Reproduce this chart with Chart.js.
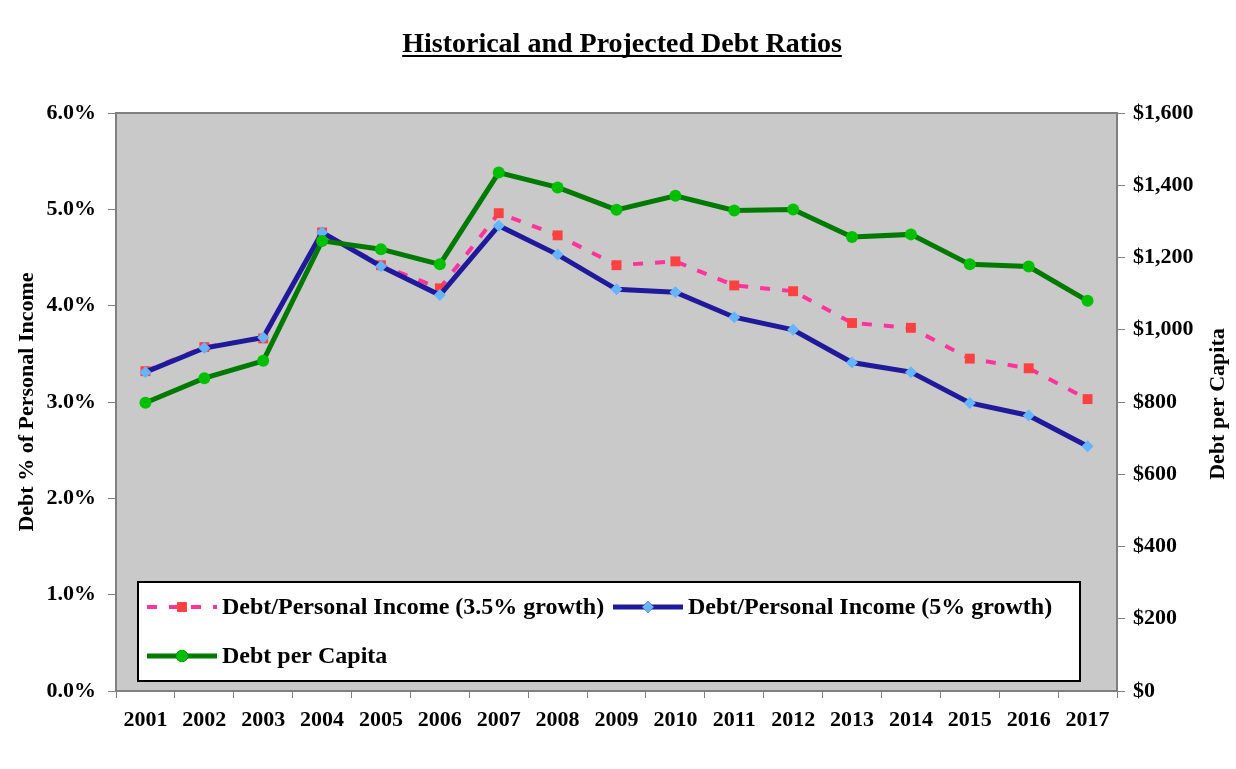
<!DOCTYPE html>
<html>
<head>
<meta charset="utf-8">
<script src="https://cdn.jsdelivr.net/npm/chart.js@4"></script>
<style>
  html, body { margin: 0; padding: 0; background: #fff; }
  #wrap { width: 1236px; height: 769px; position: relative; }
</style>
</head>
<body>
<div id="wrap"><canvas id="debtChart"></canvas></div>
<script>
const years = ['2001', '2002', '2003', '2004', '2005', '2006', '2007', '2008', '2009',
    '2010', '2011', '2012', '2013', '2014', '2015', '2016', '2017'];

// Debt as % of personal income, two growth assumptions
const income35 = [3.32, 3.57, 3.66, 4.76, 4.42, 4.18, 4.96, 4.73, 4.42, 4.46, 4.21, 4.15, 3.82, 3.77, 3.45, 3.35, 3.03];
const income5 = [3.31, 3.56, 3.67, 4.76, 4.41, 4.11, 4.83, 4.53, 4.17, 4.14, 3.88, 3.75, 3.41, 3.31, 2.99, 2.86, 2.54];

// Debt per capita in dollars
const perCapita = [798, 866, 914, 1246, 1223, 1181, 1435, 1394, 1332, 1371, 1330, 1333, 1257, 1264, 1181, 1175, 1080];

const pctTicks = { min: 0, max: 6, step: 1 };
const dollarTicks = { min: 0, max: 1600, step: 200 };

const serif = '"Liberation Serif", "Times New Roman", serif';

// plot background, frame, title, right axis title and the legend box
const decorPlugin = {
    id: 'decor',
    beforeDatasetsDraw: (chart) => {
        const { ctx, chartArea } = chart;
        ctx.save();
        ctx.fillStyle = '#c9c9c9';
        ctx.fillRect(chartArea.left, chartArea.top, chartArea.width, chartArea.height);
        ctx.strokeStyle = '#7f7f7f';
        ctx.lineWidth = 2;
        ctx.strokeRect(chartArea.left, chartArea.top, chartArea.width, chartArea.height);
        ctx.restore();
    },
    afterDraw: (chart) => {
        const { ctx, chartArea } = chart;
        ctx.save();

        // title with underline
        ctx.font = 'bold 28px ' + serif;
        ctx.fillStyle = '#000';
        ctx.textAlign = 'center';
        ctx.textBaseline = 'alphabetic';
        const title = 'Historical and Projected Debt Ratios';
        const tx = 622, ty = 52;
        ctx.fillText(title, tx, ty);
        const tw = ctx.measureText(title).width;
        ctx.fillRect(tx - tw / 2, ty + 3, tw, 2);

        // right axis title, reading bottom to top
        ctx.save();
        ctx.translate(1218, (chartArea.top + chartArea.bottom) / 2 + 2);
        ctx.rotate(-Math.PI / 2);
        ctx.font = 'bold 22px ' + serif;
        ctx.textBaseline = 'middle';
        ctx.fillText('Debt per Capita', 0, 0);
        ctx.restore();

        // legend box
        const box = { x: 138, y: 582, w: 942, h: 99 };
        ctx.fillStyle = '#fff';
        ctx.fillRect(box.x, box.y, box.w, box.h);
        ctx.strokeStyle = '#000';
        ctx.lineWidth = 2;
        ctx.strokeRect(box.x, box.y, box.w, box.h);

        const items = [
            { ds: chart.data.datasets[0], x: 147, y: 607 },
            { ds: chart.data.datasets[1], x: 613, y: 607 },
            { ds: chart.data.datasets[2], x: 147, y: 656 }
        ];
        items.forEach(({ ds, x, y }) => {
            ctx.save();
            ctx.strokeStyle = ds.borderColor;
            ctx.lineWidth = ds.borderWidth;
            ctx.setLineDash(ds.borderDash || []);
            ctx.beginPath();
            ctx.moveTo(x, y);
            ctx.lineTo(x + 70, y);
            ctx.stroke();
            ctx.restore();
            Chart.helpers.drawPoint(ctx, {
                pointStyle: ds.pointStyle,
                radius: ds.pointRadius,
                borderWidth: 0,
                rotation: 0
            }, x + 35, y);
            ctx.fillStyle = ds.pointBackgroundColor;
            ctx.fill();
            ctx.fillStyle = '#000';
            ctx.font = 'bold 24px ' + serif;
            ctx.textAlign = 'left';
            ctx.textBaseline = 'middle';
            ctx.fillText(ds.label, x + 75, y + 1);
        });

        ctx.restore();
    }
};

const chart = new Chart(document.getElementById('debtChart'), {
    type: 'line',
    data: {
        labels: years,
        datasets: [{
            label: 'Debt/Personal Income (3.5% growth)',
            data: income35,
            yAxisID: 'y',
            borderColor: '#ff3399',
            borderWidth: 4,
            borderDash: [10, 12],
            pointStyle: 'rect',
            pointRadius: 7,
            pointBorderWidth: 0,
            pointBackgroundColor: '#ff4040',
            tension: 0,
            order: 2
        }, {
            label: 'Debt/Personal Income (5% growth)',
            data: income5,
            yAxisID: 'y',
            borderColor: '#1f1a9c',
            borderWidth: 5,
            pointStyle: 'rectRot',
            pointRadius: 6,
            pointBorderWidth: 0,
            pointBackgroundColor: '#66b3ff',
            tension: 0,
            order: 1
        }, {
            label: 'Debt per Capita',
            data: perCapita,
            yAxisID: 'y1',
            borderColor: '#007a00',
            borderWidth: 5,
            pointStyle: 'circle',
            pointRadius: 6,
            pointBorderWidth: 0,
            pointBackgroundColor: '#00c000',
            tension: 0,
            order: 0
        }]
    },
    options: {
        responsive: true,
        maintainAspectRatio: false,
        animation: false,
        layout: { padding: { top: 113, left: 0, right: 0, bottom: 0 } },
        plugins: {
            legend: { display: false },
            tooltip: { enabled: false },
            title: { display: false }
        },
        scales: {
            x: {
                type: 'category',
                offset: true,
                grid: { offset: true, drawOnChartArea: false, tickLength: 7, color: '#7f7f7f', lineWidth: 1 },
                border: { color: '#7f7f7f', width: 2 },
                ticks: {
                    color: '#000',
                    font: { family: serif, size: 22, weight: 'bold' },
                    padding: 9,
                    maxRotation: 0,
                    autoSkip: false
                },
                afterFit: (scale) => { scale.height = 78; }
            },
            y: {
                position: 'left',
                min: pctTicks.min,
                max: pctTicks.max,
                grid: { drawOnChartArea: false, tickLength: 8, color: '#7f7f7f' },
                border: { color: '#7f7f7f', width: 2 },
                ticks: {
                    stepSize: pctTicks.step,
                    color: '#000',
                    font: { family: serif, size: 22, weight: 'bold' },
                    padding: 12,
                    callback: (v) => v.toFixed(1) + '%'
                },
                title: {
                    display: true,
                    text: 'Debt % of Personal Income',
                    color: '#000',
                    font: { family: serif, size: 22, weight: 'bold' },
                    padding: { top: 14, bottom: 0 }
                },
                afterFit: (scale) => { scale.width = 116; }
            },
            y1: {
                position: 'right',
                min: dollarTicks.min,
                max: dollarTicks.max,
                grid: { drawOnChartArea: false, tickLength: 8, color: '#7f7f7f' },
                border: { color: '#7f7f7f', width: 2 },
                ticks: {
                    stepSize: dollarTicks.step,
                    color: '#000',
                    font: { family: serif, size: 22, weight: 'bold' },
                    padding: 8,
                    callback: (v) => '$' + v.toLocaleString('en-US')
                },
                afterFit: (scale) => { scale.width = 119; }
            }
        }
    },
    plugins: [decorPlugin]
});
</script>
</body>
</html>
